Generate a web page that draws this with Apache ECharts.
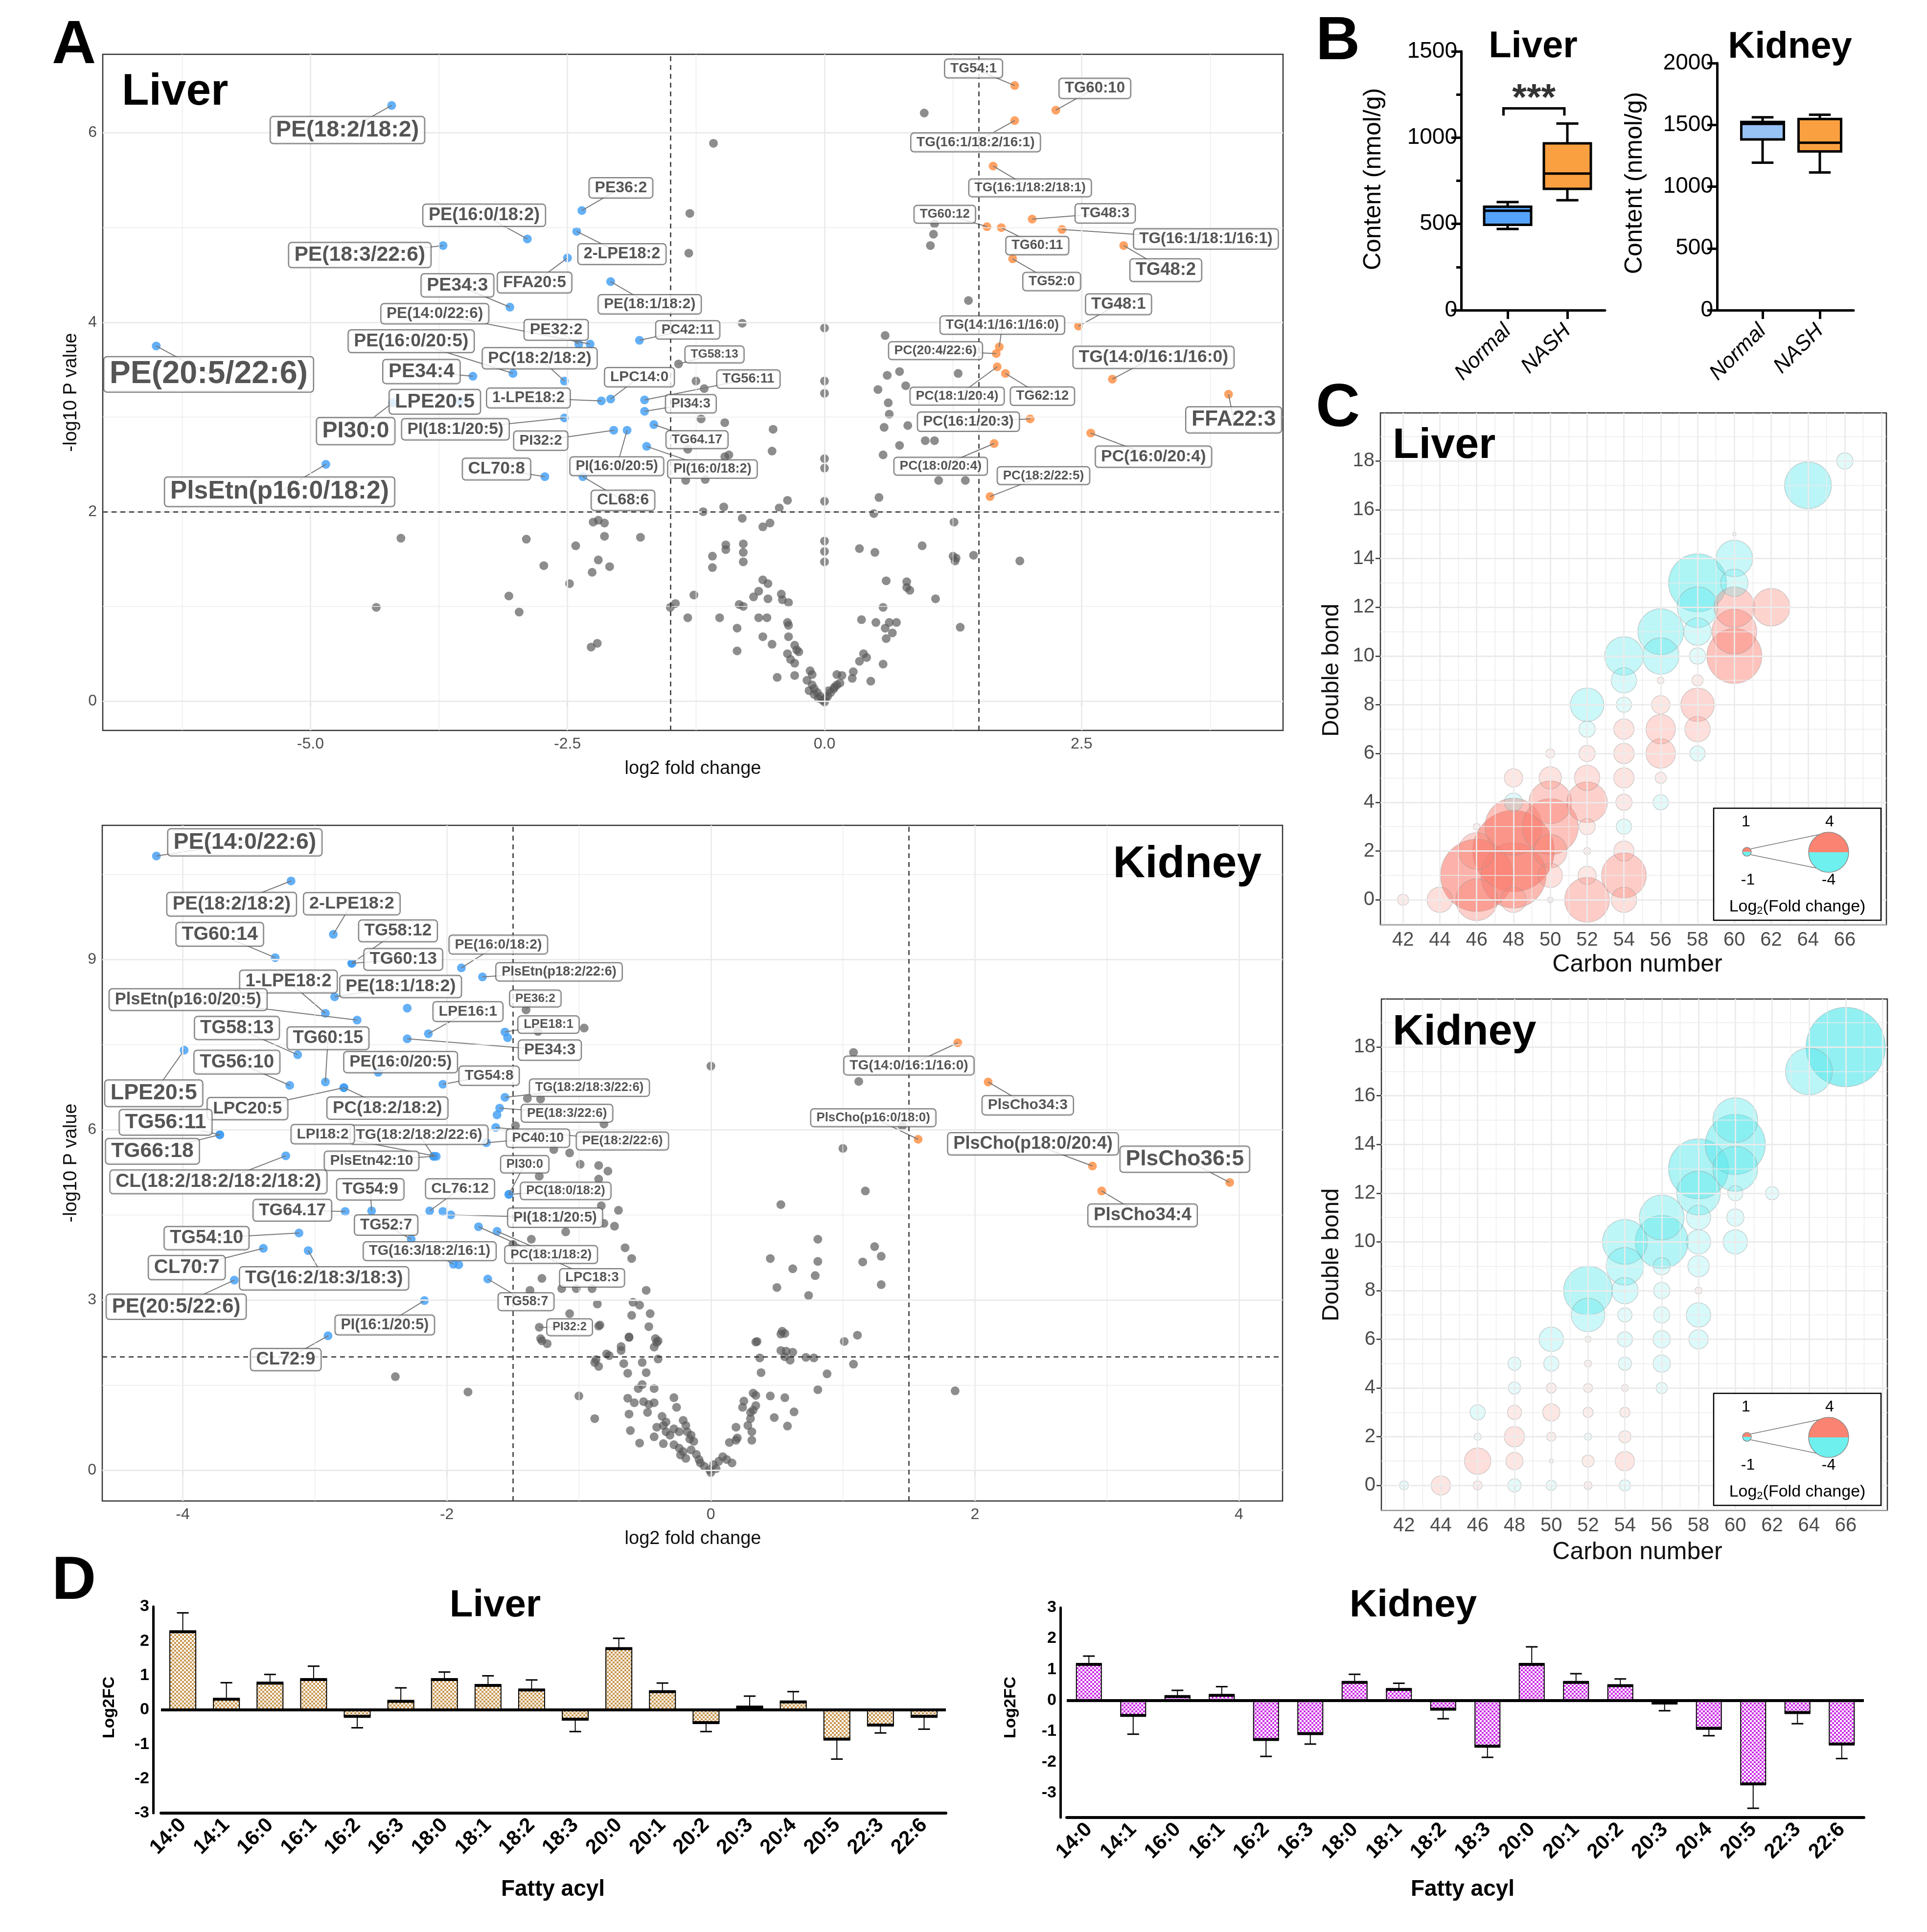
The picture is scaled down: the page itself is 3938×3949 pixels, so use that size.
<!DOCTYPE html>
<html>
<head>
<meta charset="utf-8">
<script src="https://cdn.jsdelivr.net/npm/echarts@6/dist/echarts.min.js"></script>
<style>
html, body { margin: 0; padding: 0; background: #fff; }
#main { width: 3938px; height: 3949px; }
</style>
</head>
<body>
<div id="main"></div>
<script>
// ============================
// Data
// ============================
var FONT = "'Liberation Sans', Arial, Helvetica, sans-serif";

// A. Volcano, liver: [name, log2FC, -log10P, labelX, labelY]
var liverBlue = [
    ["PE(18:2/18:2)", -4.21, 6.29, -4.64, 6.03],
    ["PE(16:0/18:2)", -2.89, 4.88, -3.31, 5.13],
    ["PE(18:3/22:6)", -3.71, 4.81, -4.52, 4.71],
    ["PE34:3", -3.06, 4.16, -3.57, 4.39],
    ["FFA20:5", -2.5, 4.68, -2.82, 4.42],
    ["PE(14:0/22:6)", -2.28, 3.77, -3.79, 4.09],
    ["PE(16:0/20:5)", -3.03, 3.46, -4.02, 3.80],
    ["PC(18:2/18:2)", -2.53, 3.38, -2.77, 3.62],
    ["PE34:4", -3.42, 3.43, -3.92, 3.48],
    ["LPE20:5", -3.55, 3.17, -3.79, 3.16],
    ["PI30:0", -4.2, 3.15, -4.56, 2.85],
    ["1-LPE18:2", -2.17, 3.17, -2.88, 3.2],
    ["LPC14:0", -2.08, 3.19, -1.8, 3.42],
    ["PI(18:1/20:5)", -2.53, 2.99, -3.59, 2.87],
    ["PI32:2", -2.05, 2.86, -2.76, 2.75],
    ["CL70:8", -2.72, 2.37, -3.19, 2.45],
    ["PlsEtn(p16:0/18:2)", -4.85, 2.5, -5.3, 2.21],
    ["PE(20:5/22:6)", -6.5, 3.75, -5.99, 3.45],
    ["PE36:2", -2.36, 5.18, -1.98, 5.42],
    ["2-LPE18:2", -2.41, 4.96, -1.97, 4.72],
    ["PE(18:1/18:2)", -2.08, 4.43, -1.7, 4.19],
    ["PC42:11", -1.8, 3.81, -1.33, 3.92],
    ["PE32:2", -2.39, 3.77, -2.61, 3.92],
    ["TG56:11", -1.75, 3.18, -0.74, 3.4],
    ["PI34:3", -1.75, 3.06, -1.3, 3.14],
    ["TG64.17", -1.66, 2.92, -1.24, 2.76],
    ["PI(16:0/20:5)", -1.92, 2.86, -2.02, 2.48],
    ["PI(16:0/18:2)", -1.73, 2.69, -1.09, 2.45],
    ["CL68:6", -2.35, 2.37, -1.96, 2.12]
];
var liverOrange = [
    ["TG54:1", 1.85, 6.5, 1.45, 6.68],
    ["TG60:10", 2.25, 6.24, 2.63, 6.47],
    ["TG(16:1/18:2/16:1)", 1.85, 6.13, 1.47, 5.9],
    ["TG(16:1/18:2/18:1)", 1.64, 5.65, 2.0, 5.42],
    ["TG60:12", 1.58, 5.01, 1.17, 5.14],
    ["TG48:3", 2.02, 5.09, 2.73, 5.15],
    ["TG(16:1/18:1/16:1)", 2.31, 4.98, 3.71, 4.88],
    ["TG60:11", 1.72, 5.0, 2.07, 4.81],
    ["TG52:0", 1.83, 4.67, 2.21, 4.43],
    ["TG48:2", 2.91, 4.81, 3.32, 4.55],
    ["TG48:1", 2.47, 3.96, 2.86, 4.19],
    ["TG(14:1/16:1/16:0)", 1.7, 3.74, 1.73, 3.97],
    ["PC(20:4/22:6)", 1.67, 3.67, 1.08, 3.7],
    ["TG(14:0/16:1/16:0)", 2.8, 3.4, 3.2, 3.63],
    ["FFA22:3", 3.93, 3.24, 3.98, 2.97],
    ["PC(18:1/20:4)", 1.68, 3.53, 1.29, 3.22],
    ["TG62:12", 1.76, 3.46, 2.12, 3.22],
    ["PC(16:1/20:3)", 2.0, 2.98, 1.4, 2.95],
    ["PC(16:0/20:4)", 2.59, 2.83, 3.2, 2.58],
    ["PC(18:0/20:4)", 1.65, 2.72, 1.13, 2.48],
    ["PC(18:2/22:5)", 1.61, 2.16, 2.13, 2.38]
];
var liverGreyLab = [["TG58:13", -1.42, 3.56, -1.07, 3.66]];
var liverGrey = [
    [0.97,6.21],[-1.08,5.89],[-1.31,5.15],[-1.32,4.73],[-0.8,3.99],[0.0,3.94],[0.59,3.86],[-1.25,3.38],[-1.17,3.3],
    [0.0,3.38],[0.0,3.25],[0.61,3.44],[0.73,3.48],[0.52,3.29],[0.79,3.33],[0.62,3.15],[0.63,3.03],[0.58,2.89],[0.81,2.91],
    [0.98,2.75],[0.73,2.7],[0.57,2.6],[-1.2,2.98],[-0.97,2.94],[-0.5,2.87],[-0.51,2.64],[-0.93,2.6],[-0.97,2.58],[-1.33,2.66],
    [-1.35,2.33],[-1.16,2.34],[0.0,2.56],[0.0,2.46],[0.53,2.15],[0.0,2.11],[-0.36,2.12],[-0.44,2.04],[-0.98,2.05],[-1.18,2.0],
    [-0.8,1.93],[-0.53,1.88],[-0.6,1.84],[0.48,1.98],[-2.25,1.89],[-2.2,1.91],[-2.14,1.88],
    [1.07,5.04],[1.06,4.93],[1.03,4.81],[1.4,4.23],[1.3,3.46],[1.07,2.75],[1.11,2.33],[1.37,2.33],[1.26,1.89],
    [-2.14,1.74],[-1.79,1.73],[-4.12,1.72],[-2.9,1.71],[-2.42,1.64],[-0.96,1.65],[-0.96,1.6],[-0.79,1.66],[-0.79,1.57],
    [0,1.69],[0,1.58],[0,1.47],[0.34,1.61],[0.49,1.57],[0.95,1.64],[1.25,1.53],[1.27,1.48],[1.28,1.51],[1.45,1.54],[1.9,1.48],
    [-1.09,1.53],[-1.09,1.41],[-0.79,1.47],[-2.2,1.49],[-2.09,1.42],[-2.73,1.43],[-2.26,1.36],[-2.48,1.24],[-3.07,1.11],
    [-4.36,0.99],[-2.97,0.94],[-0.6,1.28],[-0.55,1.24],[-0.64,1.16],[-0.69,1.1],[-0.42,1.13],[-1.27,1.12],[0.6,1.27],[0.8,1.26],
    [0.8,1.2],[0.83,1.17],[1.08,1.08],[-0.55,1.08],[-0.41,1.07],[-0.35,1.04],[-0.83,1.02],[-0.79,1.0],[-1.45,1.03],[-1.5,0.99],
    [0.57,0.99],[-1.33,0.88],[-1.02,0.88],[-0.64,0.88],[-0.56,0.88],[-0.36,0.83],[-0.35,0.8],[0.36,0.86],[0.5,0.83],[0.63,0.83],
    [0.7,0.83],[0.59,0.77],[0.66,0.72],[1.32,0.78],[-0.85,0.77],[-0.6,0.68],[-0.35,0.68],[0.6,0.66],[-0.51,0.6],[-0.29,0.59],
    [-0.27,0.54],[-0.25,0.52],[-2.27,0.57],[-2.21,0.61],[-0.85,0.53],[-0.36,0.5],[-0.33,0.44],[-0.29,0.4],[0.38,0.5],[0.41,0.46],
    [0.34,0.42],[0.57,0.39],[-0.46,0.25],[-0.29,0.27],[-0.14,0.32],[-0.12,0.28],[-0.17,0.22],[0.12,0.28],[0.17,0.27],[0.28,0.31],
    [0.27,0.24],[0.45,0.21],[-0.12,0.17],[-0.1,0.13],[-0.07,0.09],[-0.04,0.05],[-0.02,0.01],[0.0,-0.01],[0.03,0.05],[0.06,0.09],
    [0.09,0.13],[0.12,0.17],[0.15,0.19],[-0.15,0.11],[-0.1,0.07],[-0.06,0.03],[0.1,0.15],[0.04,0.11],[0.01,0.03]
];

// A. Volcano, kidney
var kidneyBlue = [
    ["PE(14:0/22:6)", -4.20, 10.82, -3.53, 11.06],
    ["PE(18:2/18:2)", -3.18, 10.38, -3.63, 9.97],
    ["2-LPE18:2", -2.86, 9.44, -2.72, 9.98],
    ["TG60:14", -3.3, 9.03, -3.72, 9.44],
    ["TG58:12", -2.72, 8.93, -2.37, 9.5],
    ["TG60:13", -2.72, 8.93, -2.33, 9.0],
    ["PE(16:0/18:2)", -1.89, 8.85, -1.61, 9.26],
    ["PlsEtn(p18:2/22:6)", -1.73, 8.69, -1.15, 8.78],
    ["PE(18:1/18:2)", -2.85, 8.34, -2.35, 8.52],
    ["", -2.3, 8.14],
    ["1-LPE18:2", -2.92, 8.05, -3.2, 8.61],
    ["PlsEtn(p16:0/20:5)", -2.68, 7.93, -3.96, 8.29],
    ["LPE16:1", -2.14, 7.69, -1.84, 8.08],
    ["PE34:3", -2.3, 7.6, -1.22, 7.4],
    ["LPE18:1", -1.56, 7.72, -1.23, 7.85],
    ["", -1.54, 7.62],
    ["LPE20:5", -3.99, 7.4, -4.22, 6.64],
    ["TG58:13", -3.13, 7.32, -3.59, 7.79],
    ["TG56:10", -3.19, 6.78, -3.59, 7.19],
    ["TG60:15", -2.92, 6.84, -2.9, 7.61],
    ["LPC20:5", -2.78, 6.74, -3.51, 6.37],
    ["PC(18:2/18:2)", -2.78, 6.74, -2.45, 6.38],
    ["PE(16:0/20:5)", -2.52, 7.01, -2.35, 7.19],
    ["TG54:8", -2.03, 6.8, -1.68, 6.95],
    ["TG(18:2/18:3/22:6)", -1.56, 6.57, -0.92, 6.74],
    ["PE(18:3/22:6)", -1.6, 6.38, -1.09, 6.29],
    ["", -1.62, 6.26],
    ["PE(18:2/22:6)", -1.63, 6.04, -0.67, 5.8],
    ["TG66:18", -3.72, 5.91, -4.23, 5.62],
    ["TG56:11", -3.72, 5.91, -4.13, 6.13],
    ["PC40:10", -1.7, 5.77, -1.31, 5.85],
    ["CL(18:2/18:2/18:2/18:2)", -3.22, 5.54, -3.73, 5.08],
    ["TG(18:2/18:2/22:6)", -2.1, 5.53, -2.21, 5.91],
    ["LPI18:2", -2.08, 5.53, -2.94, 5.92],
    ["PlsEtn42:10", -2.1, 5.53, -2.57, 5.45],
    ["PI30:0", -1.53, 4.86, -1.41, 5.39],
    ["PC(18:0/18:2)", -1.53, 4.86, -1.1, 4.92],
    ["TG64.17", -2.77, 4.56, -3.17, 4.58],
    ["TG54:9", -2.57, 4.57, -2.58, 4.95],
    ["CL76:12", -2.13, 4.57, -1.9, 4.96],
    ["", -2.03, 4.56],
    ["PI(18:1/20:5)", -1.97, 4.5, -1.18, 4.45],
    ["TG54:10", -3.12, 4.18, -3.82, 4.09],
    ["LPC18:3", -1.76, 4.29, -0.9, 3.39],
    ["PC(18:1/18:2)", -1.62, 4.21, -1.21, 3.8],
    ["TG52:7", -2.27, 4.07, -2.46, 4.32],
    ["CL70:7", -3.39, 3.91, -3.97, 3.57],
    ["TG(16:2/18:3/18:3)", -3.05, 3.87, -2.93, 3.38],
    ["TG(16:3/18:2/16:1)", -1.95, 3.63, -2.13, 3.86],
    ["", -1.91, 3.62],
    ["TG58:7", -1.69, 3.37, -1.4, 2.97],
    ["PE(20:5/22:6)", -3.61, 3.35, -4.05, 2.88],
    ["PI(16:1/20:5)", -2.17, 2.99, -2.47, 2.56],
    ["CL72:9", -2.9, 2.37, -3.22, 1.95]
];
var kidneyOrange = [
    ["TG(14:0/16:1/16:0)", 1.87, 7.53, 1.5, 7.13],
    ["PlsCho34:3", 2.1, 6.84, 2.4, 6.43],
    ["PlsCho(p16:0/18:0)", 1.57, 5.83, 1.23, 6.21],
    ["PlsCho(p18:0/20:4)", 2.89, 5.36, 2.44, 5.75],
    ["PlsCho34:4", 2.96, 4.92, 3.27, 4.49],
    ["PlsCho36:5", 3.93, 5.07, 3.59, 5.48]
];
var kidneyGreyLab = [["PE36:2", -1.4, 8.11, -1.33, 8.31], ["PI32:2", -1.3, 2.52, -1.07, 2.52]];
var kidneyGrey = [
    [-1.31,7.73],[-0.96,7.79],[0.0,7.12],[1.08,7.36],[1.12,6.85],[1.45,6.06],[-1.48,6.07],[-1.39,6.55],[-1.29,6.54],[-0.81,6.1],
    [-1.19,5.65],[-1.07,5.59],[-0.99,5.39],[-0.85,5.37],[-0.78,5.27],[-1.3,5.18],[-0.85,5.13],[1.0,5.67],[1.17,4.92],[0.53,4.68],
    [-0.7,4.58],[-0.83,4.66],[-0.81,4.35],[-0.73,4.3],[-1.1,4.2],[-1.36,4.07],[-1.5,3.98],[-0.65,3.92],[-0.6,3.73],[0.81,4.07],
    [0.45,3.73],[0.62,3.55],[0.81,3.68],[0.79,3.43],[1.24,3.94],[1.29,3.77],[1.15,3.67],[1.29,3.27],[0.5,3.22],[0.74,3.08],
    [-1.28,3.38],[-1.13,3.2],[-1.02,3.2],[-0.9,3.2],[-1.37,3.17],[-0.49,3.17],[-0.86,2.93],[-0.59,2.96],[-0.54,2.91],[-0.6,2.73],
    [-0.46,2.76],[-1.07,2.76],[-0.84,2.56],[-0.47,2.53],[-0.85,2.54],[-1.29,2.32],[-1.24,2.23],[-1.28,2.28],[-0.62,2.35],[-0.68,2.18],
    [-0.42,2.32],[-0.4,2.28],[-0.43,2.17],[0.54,2.45],[1.11,2.38],[1.01,2.27],[0.35,2.27],[0.56,2.0],[0.6,1.94],[0.56,2.41],
    [0.57,2.1],[0.62,2.08],[0.72,1.99],[0.78,1.98],[1.08,1.87],[0.88,1.7],[1.85,1.4],[0.81,1.42],[0.56,1.28],[0.63,1.03],[0.58,0.78],
    [-2.39,1.65],[-1.84,1.38],[-0.62,2.34],[-0.41,2.25],[-0.68,2.11],[-0.79,2.05],[-0.77,2.02],[-0.87,1.95],[-0.88,1.9],[-0.85,1.83],
    [-0.66,1.88],[-0.52,1.9],[-0.4,1.96],[-0.63,1.71],[-0.49,1.72],[-0.52,1.51],[-0.55,1.44],[-0.43,1.44],[-1.0,1.31],[-0.63,1.27],
    [-0.58,1.19],[-0.51,1.21],[-0.47,1.16],[-0.43,1.19],[-0.28,1.28],[-0.26,1.11],[-0.62,0.99],[-0.48,1.02],[-0.88,0.91],[-0.37,0.95],
    [-0.34,0.85],[-0.36,0.79],[-0.21,0.88],[-0.19,0.79],[-0.61,0.7],[-0.41,0.76],[-0.34,0.68],[-0.31,0.62],[-0.28,0.73],[-0.24,0.68],
    [-0.43,0.59],[-0.36,0.47],[-0.54,0.48],[-0.18,0.68],[-0.15,0.62],[-0.16,0.55],[-0.13,0.51],[-0.28,0.45],[-0.24,0.39],[-0.21,0.33],
    [-0.23,0.27],[-0.19,0.21],[-0.15,0.36],[-0.11,0.28],[-0.09,0.19],[-0.08,0.13],[-0.05,0.07],[-0.01,0.01],[0.0,-0.04],[0.02,0.1],
    [0.06,0.16],[0.09,0.24],[0.12,0.19],[0.16,0.13],[0.04,0.03],[0.19,0.53],[0.2,0.57],[0.14,0.49],[0.19,0.76],[0.24,1.11],
    [0.25,1.22],[0.3,1.02],[0.32,1.06],[0.34,1.14],[0.3,0.91],[0.28,0.79],[0.31,0.68],[0.31,0.53],[0.32,1.36],[0.34,1.32],
    [0.45,1.31],[0.48,0.93],[0.34,2.26],[0.37,1.98],[0.38,1.72],[0.53,2.4],[0.53,2.11]
];

// B. Total content boxes: [min, Q1, median, Q3, max] (nmol/g)
var groups = ["Normal", "NASH"];
var liverBox = [[471, 495, 576, 600, 627], [637, 703, 792, 967, 1082]];
var kidneyBox = [[1194, 1382, 1508, 1524, 1561], [1115, 1285, 1355, 1548, 1582]];

// C. Bubbles: [carbon number, double bonds, log2 fold change]
var liverBubbles = [
    [42,0,1.1],[44,0,2.5],[46,0,4.1],[46,1,7.1],[46,2,3.6],[46,3,0.65],
    [48,0,2.5],[48,1,6.4],[48,2,8.0],[48,3,5.6],[48,4,-1.8],[48,5,1.8],
    [50,0,0.55],[50,1,2.4],[50,2,3.3],[50,3,5.5],[50,4,4.2],[50,5,2.2],[50,6,0.9],
    [52,0,4.4],[52,1,1.8],[52,2,0.7],[52,3,1.6],[52,4,4.0],[52,5,2.5],[52,6,1.6],[52,7,-1.6],[52,8,-3.3],
    [54,0,2.5],[54,1,4.4],[54,2,2.0],[54,3,-1.5],[54,4,1.6],[54,5,2.0],[54,6,2.0],[54,7,2.0],[54,8,-1.5],[54,9,-2.5],[54,10,-3.8],
    [56,4,-1.5],[56,5,1.1],[56,6,2.9],[56,7,2.9],[56,8,1.8],[56,9,0.65],[56,10,-3.6],[56,11,-4.5],
    [58,6,-1.5],[58,7,2.5],[58,8,3.3],[58,9,1.1],[58,10,-1.6],[58,11,-2.7],[58,12,-4.0],[58,13,-5.7],
    [60,10,5.4],[60,11,4.4],[60,12,4.0],[60,13,-2.7],[60,14,-3.6],[60,15,0.35],
    [62,12,3.7],[64,17,-4.6],[66,18,-1.6]
];
var kidneyBubbles = [
    [42,0,-0.9],[44,0,1.9],[46,0,0.9],[46,1,2.6],[46,2,-0.7],[46,3,-1.5],
    [48,0,-1.3],[48,1,1.7],[48,2,2.0],[48,3,1.4],[48,4,-1.2],[48,5,-1.3],
    [50,0,-1.0],[50,1,0.4],[50,2,0.9],[50,3,1.7],[50,4,1.0],[50,5,-1.5],[50,6,-2.4],
    [52,0,0.8],[52,1,1.2],[52,2,-0.7],[52,3,1.0],[52,4,0.9],[52,5,0.7],[52,6,0.6],[52,7,-3.3],[52,8,-4.8],
    [54,0,-1.1],[54,1,1.9],[54,2,1.2],[54,3,1.0],[54,4,0.7],[54,5,-1.3],[54,6,-1.5],[54,7,-1.4],[54,8,-2.6],[54,9,-3.7],[54,10,-4.4],
    [56,4,-1.1],[56,5,-1.7],[56,6,-1.7],[56,7,-1.6],[56,8,-1.6],[56,9,-1.7],[56,10,-5.2],[56,11,-4.4],
    [58,6,-1.9],[58,7,-2.4],[58,8,0.7],[58,9,-2.1],[58,10,-2.4],[58,11,-2.4],[58,12,-4.3],[58,13,-5.9],
    [60,10,-2.4],[60,11,-1.7],[60,12,-1.5],[60,13,-4.4],[60,14,-5.9],[60,15,-4.4],
    [62,12,-1.3],[64,17,-4.6],[66,18,-7.8]
];
var carbonTicks = [42,44,46,48,50,52,54,56,58,60,62,64,66];
var bondTicks = [0,2,4,6,8,10,12,14,16,18];

// D. Fatty acyl log2FC with SEM
var fattyAcyl = ["14:0","14:1","16:0","16:1","16:2","16:3","18:0","18:1","18:2","18:3","20:0","20:1","20:2","20:3","20:4","20:5","22:3","22:6"];
var liverFC = [2.27,0.31,0.78,0.88,-0.19,0.25,0.88,0.71,0.58,-0.27,1.78,0.53,-0.37,0.08,0.23,-0.85,-0.44,-0.19];
var liverErr = [0.55,0.48,0.25,0.39,0.33,0.39,0.22,0.28,0.29,0.36,0.3,0.25,0.26,0.32,0.3,0.58,0.23,0.37];
var kidneyFC = [1.16,-0.49,0.12,0.16,-1.27,-1.08,0.58,0.35,-0.29,-1.49,1.16,0.58,0.47,-0.09,-0.91,-2.71,-0.4,-1.42];
var kidneyErr = [0.27,0.61,0.2,0.28,0.55,0.34,0.26,0.2,0.31,0.36,0.57,0.28,0.22,0.25,0.24,0.79,0.36,0.47];

// ============================
// Helpers
// ============================
function labelFont(x) { return 13.5 + 7.85 * Math.abs(x); }

function txt(text, x, y, size, o) {
    o = o || {};
    return {
        type: "text", x: x, y: y, rotation: o.rot || 0, z: 100, silent: true,
        style: {
            text: text, fontSize: size, fontFamily: FONT,
            fontWeight: o.bold ? "bold" : "normal", fontStyle: o.italic ? "italic" : "normal",
            fill: o.color || "#000", align: o.align || "center", verticalAlign: "middle", rich: o.rich
        }
    };
}

function gridLines(gi, xMajor, xMinor, yMajor, yMinor) {
    var d = [];
    xMinor.forEach(v => d.push({ xAxis: v, lineStyle: { width: 1.4 } }));
    yMinor.forEach(v => d.push({ yAxis: v, lineStyle: { width: 1.4 } }));
    xMajor.forEach(v => d.push({ xAxis: v, lineStyle: { width: 2.8 } }));
    yMajor.forEach(v => d.push({ yAxis: v, lineStyle: { width: 2.8 } }));
    return {
        type: "scatter", xAxisIndex: gi, yAxisIndex: gi, data: [], silent: true, z: 1,
        markLine: {
            silent: true, symbol: ["none", "none"], label: { show: false }, animation: false,
            lineStyle: { color: "#ebebeb", type: "solid" }, data: d
        }
    };
}

function valAxis(gi, min, max, ticks, fmt, fontSize) {
    return {
        gridIndex: gi, type: "value", min: min, max: max,
        axisLine: { show: false },
        axisTick: { show: true, length: 10, customValues: ticks, lineStyle: { color: "#333", width: 2.5 } },
        axisLabel: { customValues: ticks, formatter: fmt, color: "#4d4d4d", fontSize: fontSize, fontFamily: FONT, margin: 12 },
        splitLine: { show: false }
    };
}

function volcanoSeries(gi, grey, greyLab, blue, orange) {
    var lab = [].concat(greyLab, blue, orange).filter(d => d[0]);
    var base = { xAxisIndex: gi, yAxisIndex: gi, silent: true };
    return [
        Object.assign({ type: "scatter", z: 2, symbolSize: 18, itemStyle: { color: "rgba(88,88,88,0.85)" },
            data: grey.concat(greyLab.map(d => [d[1], d[2]])),
            markLine: {
                silent: true, symbol: ["none", "none"], label: { show: false }, animation: false,
                lineStyle: { color: "#333", width: 2.5, type: [10, 8] },
                data: [{ xAxis: -1.5 }, { xAxis: 1.5 }, { yAxis: 2 }]
            } }, base),
        Object.assign({ type: "scatter", z: 3, symbolSize: 18, itemStyle: { color: "#3d9cf5" },
            data: blue.map(d => [d[1], d[2]]) }, base),
        Object.assign({ type: "scatter", z: 3, symbolSize: 18, itemStyle: { color: "#ff8b3d" },
            data: orange.map(d => [d[1], d[2]]) }, base),
        Object.assign({ type: "lines", coordinateSystem: "cartesian2d", z: 4,
            lineStyle: { color: "#777", width: 2, opacity: 1 },
            data: lab.map(d => ({ coords: [[d[1], d[2]], [d[3], d[4]]] })) }, base),
        Object.assign({ type: "scatter", z: 5, symbolSize: 1, itemStyle: { color: "rgba(0,0,0,0)" },
            label: {
                show: true, position: "inside", formatter: "{b}", fontFamily: FONT, fontWeight: "bold",
                color: "#2b2b2b", backgroundColor: "#fff", borderColor: "#555", borderWidth: 2,
                borderRadius: 6, padding: [5, 11]
            },
            data: lab.map(d => {
                var f = labelFont(d[1]);
                return { name: d[0], value: [d[3], d[4]], label: { fontSize: f, lineHeight: Math.round(f * 0.95) } };
            }) }, base)
    ];
}

function boxRenderer(boxW, capW, colors) {
    return function (params, api) {
        var x = api.value(0);
        var half = api.size([boxW, 0])[0] / 2, cap = api.size([capW, 0])[0] / 2;
        var p = [1, 2, 3, 4, 5].map(i => api.coord([x, api.value(i)]));
        var cx = p[0][0];
        var ls = { stroke: "#000", lineWidth: 5 };
        return {
            type: "group", children: [
                { type: "line", shape: { x1: cx, y1: p[0][1], x2: cx, y2: p[1][1] }, style: ls },
                { type: "line", shape: { x1: cx, y1: p[3][1], x2: cx, y2: p[4][1] }, style: ls },
                { type: "line", shape: { x1: cx - cap, y1: p[0][1], x2: cx + cap, y2: p[0][1] }, style: ls },
                { type: "line", shape: { x1: cx - cap, y1: p[4][1], x2: cx + cap, y2: p[4][1] }, style: ls },
                { type: "rect", shape: { x: cx - half, y: p[3][1], width: 2 * half, height: p[1][1] - p[3][1] },
                  style: { fill: colors[params.dataIndex], stroke: "#000", lineWidth: 5 } },
                { type: "line", shape: { x1: cx - half, y1: p[2][1], x2: cx + half, y2: p[2][1] }, style: ls }
            ]
        };
    };
}

function errRenderer(barW, capW) {
    return function (params, api) {
        var i = api.value(0), v = api.value(1), e = api.value(2);
        var p0 = api.coord([i, v]), p1 = api.coord([i, v >= 0 ? v + e : v - e]);
        var cx = p0[0];
        return {
            type: "group", children: [
                { type: "line", shape: { x1: cx, y1: p0[1], x2: cx, y2: p1[1] }, style: { stroke: "#000", lineWidth: 2 } },
                { type: "line", shape: { x1: cx - capW / 2, y1: p1[1], x2: cx + capW / 2, y2: p1[1] }, style: { stroke: "#000", lineWidth: 3 } },
                { type: "line", shape: { x1: cx - barW / 2, y1: p0[1], x2: cx + barW / 2, y2: p0[1] }, style: { stroke: "#000", lineWidth: 6 } }
            ]
        };
    };
}

function checker(color) {
    var c = document.createElement("canvas");
    c.width = c.height = 8;
    var g = c.getContext("2d");
    g.fillStyle = "#fff"; g.fillRect(0, 0, 8, 8);
    g.fillStyle = color; g.fillRect(0, 0, 4, 4); g.fillRect(4, 4, 4, 4);
    return { image: c, repeat: "repeat" };
}

function bubbleColor(fc) {
    var a = Math.min(0.85, 0.08 + 0.095 * Math.abs(fc));
    return fc >= 0 ? "rgba(250,128,114," + a + ")" : "rgba(90,232,235," + a + ")";
}

function range(a, b) { var r = []; for (var v = a; v <= b; v++) r.push(v); return r; }

var SPLIT = { type: "linear", x: 0, y: 0, x2: 0, y2: 1, colorStops: [
    { offset: 0, color: "#fa8471" }, { offset: 0.5, color: "#fa8471" },
    { offset: 0.5, color: "#6ef0ef" }, { offset: 1, color: "#6ef0ef" }] };

function sizeLegend(dy) {
    return [
        { type: "rect", z: 90, shape: { x: 3502, y: 1652 + dy, width: 342, height: 229 }, style: { fill: "#fff", stroke: "#000", lineWidth: 2.5 } },
        { type: "line", z: 91, shape: { x1: 3578, y1: 1735 + dy, x2: 3731, y2: 1703 + dy }, style: { stroke: "#777", lineWidth: 1.5 } },
        { type: "line", z: 91, shape: { x1: 3578, y1: 1747 + dy, x2: 3715, y2: 1775 + dy }, style: { stroke: "#777", lineWidth: 1.5 } },
        { type: "circle", z: 92, shape: { cx: 3570, cy: 1741 + dy, r: 9 }, style: { fill: SPLIT, stroke: "#888", lineWidth: 1.5 } },
        { type: "circle", z: 92, shape: { cx: 3737, cy: 1742 + dy, r: 41 }, style: { fill: SPLIT, stroke: "#888", lineWidth: 1.5 } },
        txt("1", 3568, 1680 + dy, 32), txt("4", 3739, 1680 + dy, 32),
        txt("-1", 3572, 1799 + dy, 32), txt("-4", 3737, 1799 + dy, 32),
        txt("Log{s|2}(Fold change)", 3673, 1854 + dy, 34, { rich: { s: { fontSize: 22, fontFamily: FONT, padding: [16, 0, 0, 0] } } })
    ];
}

// ============================
// Option
// ============================
var chart = echarts.init(document.getElementById("main"));

var frame = { show: true, borderColor: "#333", borderWidth: 2.5, backgroundColor: "#fff" };
var grids = [
    Object.assign({ left: 210, top: 111, width: 2412, height: 1382 }, frame),   // 0 volcano liver
    Object.assign({ left: 209, top: 1687, width: 2412, height: 1381 }, frame),  // 1 volcano kidney
    { left: 2986, top: 105, width: 294, height: 529 },                          // 2 box liver
    { left: 3509, top: 129, width: 279, height: 505 },                          // 3 box kidney
    Object.assign({ left: 2821, top: 844, width: 1034, height: 1046 }, frame),  // 4 bubble liver
    Object.assign({ left: 2823, top: 2042, width: 1034, height: 1045 }, frame), // 5 bubble kidney
    { left: 329, top: 3284, width: 1604, height: 422 },                         // 6 bar liver
    { left: 2180, top: 3286, width: 1629, height: 429 }                         // 7 bar kidney
];

function boxX(gi, min, max) {
    return {
        gridIndex: gi, type: "value", min: min, max: max,
        axisLine: { show: true, onZero: false, lineStyle: { color: "#000", width: 5 } },
        axisTick: { customValues: [1, 2], length: 18, lineStyle: { color: "#000", width: 5 } },
        axisLabel: { customValues: [1, 2], formatter: v => groups[Math.round(v) - 1], rotate: 45,
            fontStyle: "italic", fontSize: 44, color: "#000", fontFamily: FONT, margin: 36 },
        splitLine: { show: false }
    };
}
function boxY(gi, max, minor) {
    return {
        gridIndex: gi, type: "value", min: 0, max: max, interval: 500,
        axisLine: { show: true, lineStyle: { color: "#000", width: 5 } },
        axisTick: { length: 20, lineStyle: { color: "#000", width: 5 } },
        minorTick: { show: minor, splitNumber: 2, length: 10, lineStyle: { color: "#000", width: 5 } },
        axisLabel: { formatter: v => String(v), fontSize: 46, color: "#000", fontFamily: FONT, margin: 8 },
        splitLine: { show: false }
    };
}
function barX(gi) {
    return {
        gridIndex: gi, type: "category", data: fattyAcyl,
        axisLine: { onZero: false, lineStyle: { color: "#000", width: 6 } },
        axisTick: { alignWithLabel: true, length: 18, lineStyle: { color: "#000", width: 4 } },
        axisLabel: { interval: 0, rotate: 45, fontSize: 42, fontWeight: "bold", color: "#000", fontFamily: FONT, margin: 18 },
        splitLine: { show: false }
    };
}
function barY(gi, min, offset) {
    var ticks = [-3, -2, -1, 0, 1, 2, 3];
    return {
        gridIndex: gi, type: "value", min: min, max: 3, offset: offset,
        axisLine: { show: true, lineStyle: { color: "#000", width: 5 } },
        axisTick: { customValues: ticks, length: 14, lineStyle: { color: "#000", width: 4 } },
        axisLabel: { customValues: ticks, fontSize: 34, fontWeight: "bold", color: "#000", fontFamily: FONT, margin: 8 },
        splitLine: { show: false }
    };
}

var xAxes = [
    valAxis(0, -7.02, 4.46, [-5, -2.5, 0, 2.5], v => v.toFixed(1), 32),
    valAxis(1, -4.61, 4.33, [-4, -2, 0, 2, 4], v => String(v), 32),
    boxX(2, 0.221, 2.631),
    boxX(3, 0.205, 2.59),
    valAxis(4, 40.77, 68.26, carbonTicks, v => String(v), 40),
    valAxis(5, 40.77, 68.26, carbonTicks, v => String(v), 40),
    barX(6), barX(7)
];
var yAxes = [
    valAxis(0, -0.31, 6.83, [0, 2, 4, 6], v => String(v), 32),
    valAxis(1, -0.54, 11.36, [0, 3, 6, 9], v => String(v), 32),
    boxY(2, 1500, true),
    boxY(3, 2000, false),
    valAxis(4, -1.02, 19.97, bondTicks, v => String(v), 40),
    valAxis(5, -1.02, 19.97, bondTicks, v => String(v), 40),
    barY(6, -3, 16),
    barY(7, -3.8, 13)
];

var oddC = range(41, 68).filter(v => v % 2 !== 0), evenC = range(42, 68).filter(v => v % 2 === 0);
var oddB = range(-1, 19).filter(v => v % 2 !== 0);

var series = [].concat(
    gridLines(0, [-5, -2.5, 0, 2.5], [-6.25, -3.75, -1.25, 1.25, 3.75], [0, 2, 4, 6], [1, 3, 5]),
    gridLines(1, [-4, -2, 0, 2, 4], [-3, -1, 1, 3], [0, 3, 6, 9], [1.5, 4.5, 7.5, 10.5]),
    volcanoSeries(0, liverGrey, liverGreyLab, liverBlue, liverOrange),
    volcanoSeries(1, kidneyGrey, kidneyGreyLab, kidneyBlue, kidneyOrange),
    // B
    { type: "custom", xAxisIndex: 2, yAxisIndex: 2, renderItem: boxRenderer(0.787, 0.37, ["#55a3fa", "#fba040"]),
      data: liverBox.map((b, i) => [i + 1].concat(b)) },
    { type: "custom", xAxisIndex: 3, yAxisIndex: 3, renderItem: boxRenderer(0.744, 0.38, ["#96c3f3", "#fba040"]),
      data: kidneyBox.map((b, i) => [i + 1].concat(b)) },
    { type: "lines", coordinateSystem: "cartesian2d", xAxisIndex: 2, yAxisIndex: 2, polyline: true, silent: true,
      lineStyle: { color: "#000", width: 5, opacity: 1 },
      data: [{ coords: [[0.93, 1128], [0.93, 1170], [1.95, 1170], [1.95, 1128]] }] },
    { type: "scatter", xAxisIndex: 2, yAxisIndex: 2, symbolSize: 1, silent: true, itemStyle: { color: "rgba(0,0,0,0)" },
      label: { show: true, position: "inside", formatter: "***", fontSize: 76, fontWeight: "bold", color: "#000", fontFamily: FONT },
      data: [[1.44, 1222]] },
    // C
    gridLines(4, evenC, oddC, bondTicks, oddB),
    gridLines(5, evenC, oddC, bondTicks, oddB),
    { type: "scatter", xAxisIndex: 4, yAxisIndex: 4, z: 3, silent: true,
      data: liverBubbles.slice().sort((a, b) => Math.abs(b[2]) - Math.abs(a[2])),
      symbolSize: v => 20.8 * Math.abs(v[2]),
      itemStyle: { color: p => bubbleColor(p.value[2]), borderColor: "rgba(150,150,150,0.55)", borderWidth: 1.5 } },
    { type: "scatter", xAxisIndex: 5, yAxisIndex: 5, z: 3, silent: true,
      data: kidneyBubbles.slice().sort((a, b) => Math.abs(b[2]) - Math.abs(a[2])),
      symbolSize: v => 20.8 * Math.abs(v[2]),
      itemStyle: { color: p => bubbleColor(p.value[2]), borderColor: "rgba(150,150,150,0.55)", borderWidth: 1.5 } },
    // D
    { type: "bar", xAxisIndex: 6, yAxisIndex: 6, data: liverFC, barWidth: 55, silent: true,
      itemStyle: { color: checker("#c8964e"), borderColor: "#000", borderWidth: 2 },
      markLine: { silent: true, symbol: ["none", "none"], label: { show: false }, animation: false,
        lineStyle: { color: "#000", width: 6, type: "solid" }, data: [{ yAxis: 0 }] } },
    { type: "custom", xAxisIndex: 6, yAxisIndex: 6, z: 5, renderItem: errRenderer(55, 24),
      data: liverFC.map((v, i) => [i, v, liverErr[i]]) },
    { type: "bar", xAxisIndex: 7, yAxisIndex: 7, data: kidneyFC, barWidth: 53, silent: true,
      itemStyle: { color: checker("#cc2de6"), borderColor: "#000", borderWidth: 2 },
      markLine: { silent: true, symbol: ["none", "none"], label: { show: false }, animation: false,
        lineStyle: { color: "#000", width: 6, type: "solid" }, data: [{ yAxis: 0 }] } },
    { type: "custom", xAxisIndex: 7, yAxisIndex: 7, z: 5, renderItem: errRenderer(53, 24),
      data: kidneyFC.map((v, i) => [i, v, kidneyErr[i]]) }
);

var graphics = [
    // panel letters
    txt("A", 106, 95, 125, { bold: true, align: "left" }),
    txt("B", 2689, 87, 125, { bold: true, align: "left" }),
    txt("C", 2689, 837, 125, { bold: true, align: "left" }),
    txt("D", 106, 3234, 125, { bold: true, align: "left" }),
    // A
    txt("Liver", 249, 189, 91, { bold: true, align: "left" }),
    txt("Kidney", 2578, 1768, 91, { bold: true, align: "right" }),
    txt("log2 fold change", 1416, 1572, 38, { color: "#111" }),
    txt("log2 fold change", 1416, 3146, 38, { color: "#111" }),
    txt("-log10 P value", 146, 802, 38, { rot: Math.PI / 2, color: "#111" }),
    txt("-log10 P value", 146, 2377, 38, { rot: Math.PI / 2, color: "#111" }),
    // B
    txt("Liver", 3133, 96, 76, { bold: true }),
    txt("Kidney", 3658, 97, 76, { bold: true }),
    txt("Content (nmol/g)", 2807, 366, 50, { rot: Math.PI / 2 }),
    txt("Content (nmol/g)", 3341, 374, 50, { rot: Math.PI / 2 }),
    // C
    txt("Liver", 2846, 912, 88, { bold: true, align: "left" }),
    txt("Kidney", 2846, 2111, 88, { bold: true, align: "left" }),
    txt("Carbon number", 3346, 1972, 50, { color: "#111" }),
    txt("Carbon number", 3346, 3173, 50, { color: "#111" }),
    txt("Double bond", 2722, 1370, 48, { rot: Math.PI / 2, color: "#111" }),
    txt("Double bond", 2722, 2565, 48, { rot: Math.PI / 2, color: "#111" }),
    // D
    txt("Liver", 1012, 3282, 78, { bold: true }),
    txt("Kidney", 2888, 3282, 78, { bold: true }),
    txt("Log2FC", 224, 3490, 34, { bold: true, rot: Math.PI / 2 }),
    txt("Log2FC", 2066, 3490, 34, { bold: true, rot: Math.PI / 2 }),
    txt("Fatty acyl", 1130, 3862, 46, { bold: true }),
    txt("Fatty acyl", 2989, 3862, 46, { bold: true })
].concat(sizeLegend(0), sizeLegend(1196));

chart.setOption({
    backgroundColor: "#fff",
    animation: false,
    textStyle: { fontFamily: FONT },
    grid: grids,
    xAxis: xAxes,
    yAxis: yAxes,
    series: series,
    graphic: graphics
});
</script>
</body>
</html>
